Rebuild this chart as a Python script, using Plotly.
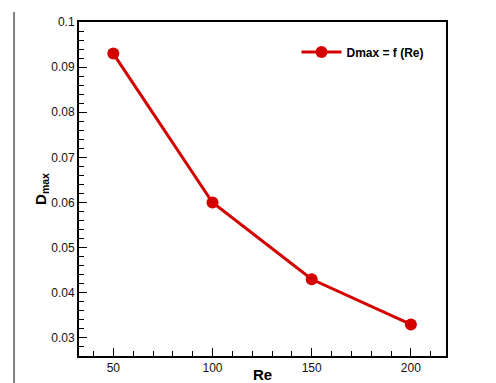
import plotly.graph_objects as go

re_values = [50, 100, 150, 200]
dmax_values = [0.093, 0.060, 0.043, 0.033]
y_tick_vals = [0.03, 0.04, 0.05, 0.06, 0.07, 0.08, 0.09, 0.1]
y_tick_text = ["0.03", "0.04", "0.05", "0.06", "0.07", "0.08", "0.09", "0.1"]
x_tick_vals = [50, 100, 150, 200]
series_name = "<b>Dmax = f (Re)</b>"

red = "#d40000"
font_family = "Liberation Sans, Arial"

fig = go.Figure()
fig.add_trace(go.Scatter(
    x=re_values, y=dmax_values, mode="lines+markers", name=series_name,
    line=dict(color=red, width=3),
    marker=dict(color=red, size=12),
))

axis_common = dict(
    showline=True, linecolor="black", linewidth=2, mirror=True,
    showgrid=False, zeroline=False,
    ticks="inside", ticklen=8, tickwidth=1, tickcolor="black",
    tickfont=dict(family=font_family, size=12, color="#111111"),
)

fig.update_xaxes(
    range=[32.7, 217.7], tickvals=x_tick_vals,
    minor=dict(dtick=10, tick0=0, ticks="inside", ticklen=5, tickcolor="black"),
    title=dict(text="<b>Re</b>", font=dict(family=font_family, size=15, color="black"), standoff=11),
    **axis_common,
)
fig.update_yaxes(
    range=[0.026, 0.1], tickvals=y_tick_vals, ticktext=y_tick_text,
    minor=dict(dtick=0.002, tick0=0, ticks="inside", ticklen=5, tickcolor="black"),
    title=dict(text="<b>D<sub>max</sub></b>", font=dict(family=font_family, size=15, color="black"), standoff=0),
    **axis_common,
)

# left gray page border line
fig.add_shape(type="line", xref="paper", yref="paper", x0=-0.177, x1=-0.177, y0=-0.2, y1=1.03,
              line=dict(color="#808080", width=2))

# page body has an 8px margin, so the figure is 8px smaller and margins shifted
fig.update_layout(
    width=488, height=375,
    margin=dict(l=71, r=50, t=14, b=27, autoexpand=False),
    paper_bgcolor="white", plot_bgcolor="white",
    showlegend=True,
    legend=dict(x=0.955, y=0.91, xanchor="right", yanchor="middle",
                bgcolor="rgba(0,0,0,0)", font=dict(family=font_family, size=12, color="black"),
                itemwidth=40),
)

fig.write_html("out.html")
